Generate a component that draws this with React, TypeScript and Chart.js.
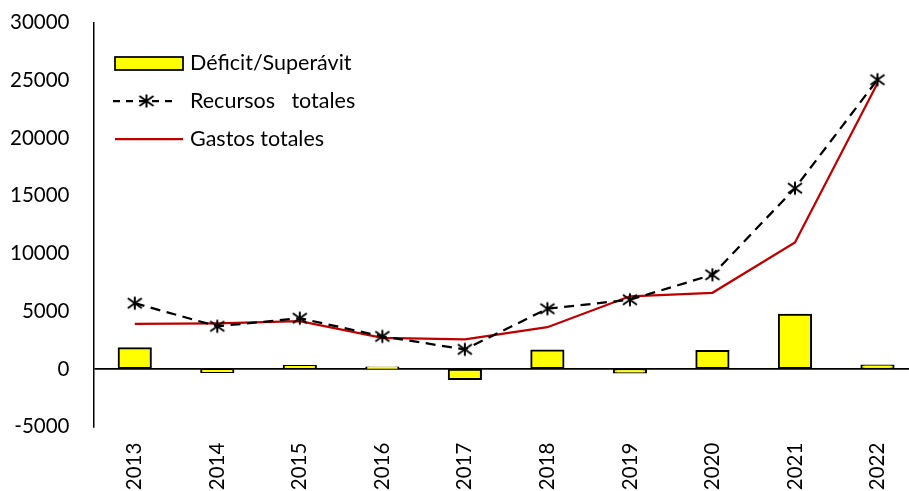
import React, { useEffect, useRef } from "react";
import { Chart, registerables } from "chart.js";

Chart.register(...registerables);

const years = ["2013", "2014", "2015", "2016", "2017", "2018", "2019", "2020", "2021", "2022"];
const recursos = [5700, 3700, 4400, 2820, 1700, 5220, 6000, 8160, 15660, 25060];
const gastos = [3900, 3950, 4140, 2700, 2560, 3620, 6300, 6600, 10960, 24760];
const deficit = [1800, -270, 260, 120, -860, 1600, -300, 1560, 4700, 300];
const yTicksMin = -5000;
const yTicksMax = 30000;
const yStep = 5000;

const legendLabels = ["Déficit/Superávit", "Recursos   totales", "Gastos totales"];

const FONT = "Lato, 'Open Sans', sans-serif";

function makeStar(size: number): HTMLCanvasElement {
  const c = document.createElement("canvas");
  c.width = size;
  c.height = size;
  const g = c.getContext("2d")!;
  g.strokeStyle = "#000";
  g.lineWidth = 2;
  const m = size / 2;
  g.beginPath();
  g.moveTo(m - 7, m - 5);
  g.lineTo(m + 7, m + 5);
  g.moveTo(m + 7, m - 5);
  g.lineTo(m - 7, m + 5);
  g.moveTo(m, m - 6.5);
  g.lineTo(m, m + 6.5);
  g.stroke();
  return c;
}

export default function App() {
  const ref = useRef<HTMLCanvasElement | null>(null);

  useEffect(() => {
    if (!ref.current) return;
    const star = makeStar(18);

    const legendPlugin = {
      id: "customLegend",
      afterDraw(chart: any) {
        const ctx = chart.ctx as CanvasRenderingContext2D;
        ctx.save();
        const x0 = 115;
        const x1 = 183;
        const tx = 190;
        const ys = [63.5, 101, 139];
        ctx.fillStyle = "#FFFF00";
        ctx.strokeStyle = "#000";
        ctx.lineWidth = 1.75;
        ctx.fillRect(x0, ys[0] - 6.5, x1 - x0, 13);
        ctx.strokeRect(x0, ys[0] - 6.5, x1 - x0, 13);
        ctx.beginPath();
        ctx.setLineDash([7, 6]);
        ctx.lineWidth = 2.25;
        ctx.moveTo(113, ys[1]);
        ctx.lineTo(172, ys[1]);
        ctx.stroke();
        ctx.setLineDash([]);
        ctx.drawImage(star, 146.5 - 9, ys[1] - 9);
        ctx.beginPath();
        ctx.strokeStyle = "#C00000";
        ctx.lineWidth = 2.25;
        ctx.moveTo(x0, ys[2]);
        ctx.lineTo(x1, ys[2]);
        ctx.stroke();
        ctx.fillStyle = "#000";
        ctx.font = `21.5px ${FONT}`;
        ctx.textBaseline = "middle";
        ctx.textAlign = "left";
        legendLabels.forEach((t, i) => ctx.fillText(t, tx, ys[i]));
        ctx.restore();
      },
    };

    const chart = new Chart(ref.current, {
      type: "bar",
      data: {
        labels: years,
        datasets: [
          {
            type: "line",
            label: legendLabels[2],
            data: gastos,
            borderColor: "#C00000",
            borderWidth: 2.25,
            pointRadius: 0,
            fill: false,
            order: 1,
          } as any,
          {
            type: "line",
            label: legendLabels[1],
            data: recursos,
            borderColor: "#000",
            borderWidth: 2.25,
            borderDash: [10, 6.5],
            pointStyle: star,
            pointRadius: 9,
            fill: false,
            order: 0,
          } as any,
          {
            type: "bar",
            label: legendLabels[0],
            data: deficit,
            backgroundColor: "#FFFF00",
            borderColor: "#000",
            borderWidth: 2,
            borderSkipped: false,
            inflateAmount: 1,
            barPercentage: 0.39,
            categoryPercentage: 1,
            order: 2,
          } as any,
        ],
      },
      options: {
        animation: false,
        responsive: false,
        devicePixelRatio: 1,
        layout: { padding: { left: 0, right: 6.5, top: 22.7, bottom: 0 } },
        plugins: { legend: { display: false }, tooltip: { enabled: false } },
        scales: {
          x: {
            type: "category",
            offset: true,
            grid: { display: false, drawTicks: false },
            border: { display: false },
            ticks: {
              autoSkip: false,
              minRotation: 90,
              maxRotation: 90,
              padding: 16,
              color: "#000",
              font: { family: FONT, size: 20.5 },
            },
            afterFit(scale: any) {
              scale.height = 64.3;
            },
          },
          y: {
            min: yTicksMin,
            max: yTicksMax,
            ticks: {
              stepSize: yStep,
              padding: 0,
              color: "#000",
              font: { family: FONT, size: 20.5 },
              callback: (v: any) => String(v),
            },
            grid: {
              drawTicks: true,
              tickLength: 24,
              tickColor: "rgba(0,0,0,0)",
              lineWidth: 1.75,
              color: (c: any) => (c.tick && c.tick.value === 0 ? "#000" : "rgba(0,0,0,0)"),
            },
            border: { display: true, color: "#000", width: 1.5 },
            afterFit(scale: any) {
              scale.width = 93.5;
            },
          },
        },
      },
      plugins: [legendPlugin],
    });
    return () => chart.destroy();
  }, []);

  return (
    <div
      style={{
        position: "fixed",
        left: 0,
        top: 0,
        width: 909,
        height: 491,
        overflow: "hidden",
        background: "#fff",
      }}
    >
      <canvas ref={ref} width={930} height={491} style={{ display: "block" }} />
    </div>
  );
}
